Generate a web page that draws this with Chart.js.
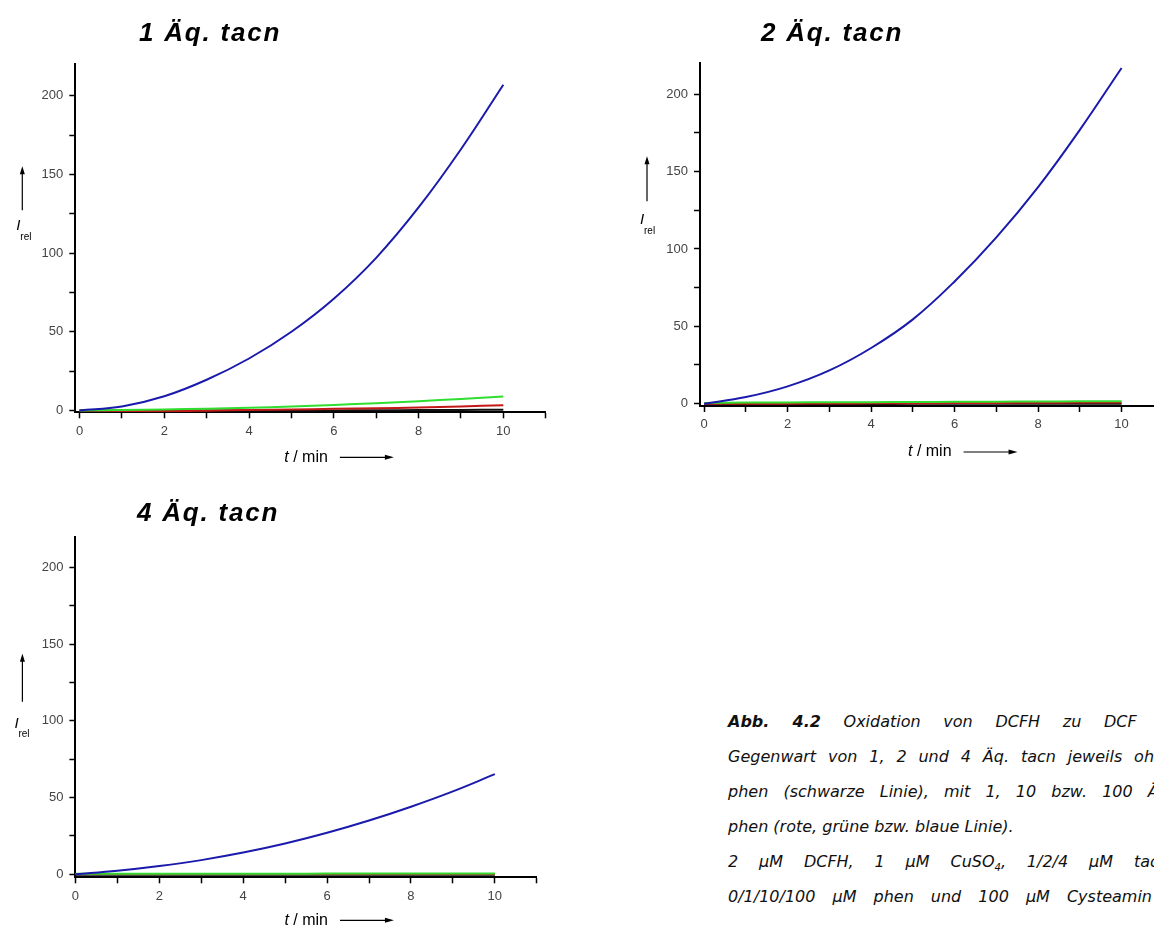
<!DOCTYPE html>
<html>
<head>
<meta charset="utf-8">
<script src="https://cdn.jsdelivr.net/npm/chart.js@4.4.1/dist/chart.umd.min.js"></script>
<style>
    html, body { margin: 0; padding: 0; background: #fff; }
    body { width: 1154px; height: 927px; overflow: hidden; position: relative; }
    canvas { position: absolute; }
    .title {
        position: absolute;
        font: italic bold 26px "Liberation Sans", Arial, sans-serif;
        letter-spacing: 1.8px;
        transform: translate(-50%, -50%);
        white-space: nowrap;
        color: #000;
    }
    .caption {
        position: absolute;
        left: 728px;
        top: 704px;
        font: italic 16px "DejaVu Sans", Verdana, sans-serif;
        color: #111;
    }
    .caption div {
        height: 35px;
        line-height: 35px;
        width: 446px;
        white-space: nowrap;
        text-align: justify;
        text-align-last: justify;
    }
    .caption sub { font-size: 10px; line-height: 0; }
</style>
</head>
<body>
<canvas id="chart1" width="560" height="470" style="left:0;top:0"></canvas>
<canvas id="chart2" width="580" height="470" style="left:600px;top:0"></canvas>
<canvas id="chart4" width="560" height="470" style="left:0;top:470px"></canvas>

<div class="title" id="title1" style="left:210px;top:32px"></div>
<div class="title" id="title2" style="left:832px;top:32px"></div>
<div class="title" id="title4" style="left:208px;top:512px"></div>

<div class="caption">
    <div><b>Abb. 4.2</b> Oxidation von DCFH zu DCF in</div>
    <div>Gegenwart von 1, 2 und 4 Äq. tacn jeweils ohne</div>
    <div>phen (schwarze Linie), mit 1, 10 bzw. 100 Äq.</div>
    <div style="text-align-last:left">phen (rote, grüne bzw. blaue Linie).</div>
    <div>2 μM DCFH, 1 μM CuSO<sub>4</sub>, 1/2/4 μM tacn,</div>
    <div style="width:424px">0/1/10/100 μM phen und 100 μM Cysteamin</div>
</div>

<script>
// time axis (min) and read-off values
const times = [0, 1, 2, 3, 4, 5, 6, 7, 8, 9, 10];

const panelTitles = ['1 Äq. tacn', '2 Äq. tacn', '4 Äq. tacn'];

// 1 eq tacn
const blue1  = [0, 2.5, 9, 19.5, 33, 50, 71, 97, 129, 166, 207];
const green1 = [0, 0.3, 0.6, 1.1, 1.7, 2.5, 3.5, 4.6, 5.9, 7.3, 8.9];
const red1   = [0, -0.3, -0.5, -0.2, 0.3, 0.6, 1.0, 1.3, 1.8, 2.5, 3.3];
const black1 = [0, 0, -0.1, -0.1, 0, 0, 0, 0.1, 0.2, 0.3, 0.5];

// 2 eq tacn
const blue2  = [0, 4.3, 11.2, 21.5, 36, 54.5, 79, 107.5, 140, 177, 217];
const green2 = [0.5, 0.7, 0.8, 0.9, 1.0, 1.1, 1.2, 1.3, 1.4, 1.5, 1.6];
const red2   = [0, 0, 0, 0.1, 0.2, 0.3, 0.4, 0.5, 0.6, 0.7, 0.8];
const black2 = [0, -0.3, -0.3, -0.2, -0.2, -0.1, 0, 0, 0, 0, 0];

// 4 eq tacn
const blue4  = [0, 2.2, 5.3, 9.2, 14.1, 20, 27, 35, 44, 54, 65.2];
const green4 = [0.3, 0.3, 0.3, 0.3, 0.3, 0.3, 0.4, 0.4, 0.4, 0.4, 0.4];
const red4   = [0.1, 0.1, 0.1, 0.1, 0.1, 0.2, 0.2, 0.2, 0.2, 0.2, 0.2];
const black4 = [-0.4, -0.4, -0.4, -0.4, -0.4, -0.4, -0.4, -0.4, -0.4, -0.4, -0.4];

const xTicks = [0, 1, 2, 3, 4, 5, 6, 7, 8, 9, 10, 11];
const xLabeled = [0, 2, 4, 6, 8, 10];
const yTicks = [0, 25, 50, 75, 100, 125, 150, 175, 200];
const yLabeled = [0, 50, 100, 150, 200];

const colors = { blue: '#1a1aac', green: '#30de30', red: '#c41818', black: '#111111' };

// draws "I rel" and "t / min" with their arrows
const axisDecor = {
    id: 'axisDecor',
    afterDraw(chart, args, opts) {
        const ctx = chart.ctx;
        const area = chart.chartArea;
        ctx.save();
        ctx.fillStyle = '#000';
        ctx.strokeStyle = '#000';
        ctx.textBaseline = 'middle';
        ctx.textAlign = 'left';

        // y label
        const ix = area.left + opts.iDx;
        const iy = area.top + opts.iDy;
        ctx.font = 'italic 15px "Liberation Sans", Arial, sans-serif';
        ctx.fillText('I', ix, iy);
        ctx.font = '10px "Liberation Sans", Arial, sans-serif';
        ctx.fillText('rel', ix + 4, iy + 11);

        const ax = area.left + opts.aDx;
        const ay1 = area.top + opts.aY1;
        const ay2 = area.top + opts.aY2;
        ctx.lineWidth = 1.2;
        ctx.beginPath();
        ctx.moveTo(ax, ay1);
        ctx.lineTo(ax, ay2 + 6);
        ctx.stroke();
        ctx.beginPath();
        ctx.moveTo(ax, ay2);
        ctx.lineTo(ax - 2.5, ay2 + 8);
        ctx.lineTo(ax + 2.5, ay2 + 8);
        ctx.closePath();
        ctx.fill();

        // x label
        let tx = area.left + opts.tDx;
        const ty = area.bottom + opts.tDy;
        ctx.font = 'italic 16px "Liberation Sans", Arial, sans-serif';
        ctx.fillText('t', tx, ty);
        tx += ctx.measureText('t').width;
        ctx.font = '16px "Liberation Sans", Arial, sans-serif';
        ctx.fillText(' / min', tx, ty);
        tx += ctx.measureText(' / min').width;

        const x1 = tx + 12;
        const x2 = tx + 66;
        ctx.beginPath();
        ctx.moveTo(x1, ty);
        ctx.lineTo(x2 - 6, ty);
        ctx.stroke();
        ctx.beginPath();
        ctx.moveTo(x2, ty);
        ctx.lineTo(x2 - 9, ty - 2.5);
        ctx.lineTo(x2 - 9, ty + 2.5);
        ctx.closePath();
        ctx.fill();
        ctx.restore();
    }
};

function series(values, color) {
    return {
        data: times.map((t, i) => ({ x: t, y: values[i] })),
        borderColor: color,
        borderWidth: 2,
        pointRadius: 0,
        fill: false,
        tension: 0.4
    };
}

function makeChart(id, datasets, box, decor) {
    const tickFont = { family: '"Liberation Sans", Arial, sans-serif', size: 13 };
    return new Chart(document.getElementById(id), {
        type: 'line',
        data: { datasets: datasets },
        plugins: [axisDecor],
        options: {
            responsive: false,
            animation: false,
            events: [],
            layout: { padding: { top: box.padTop, right: box.padRight, left: 0, bottom: 0 } },
            plugins: {
                legend: { display: false },
                tooltip: { enabled: false },
                axisDecor: decor
            },
            scales: {
                x: {
                    type: 'linear',
                    min: box.xMin,
                    max: 11,
                    afterBuildTicks: s => { s.ticks = xTicks.map(v => ({ value: v })); },
                    afterFit: s => { s.height = box.xHeight; },
                    grid: { drawOnChartArea: false, tickLength: 6, tickWidth: 1.5, tickColor: '#000' },
                    border: { display: true, color: '#000', width: 2 },
                    ticks: {
                        callback: v => xLabeled.includes(v) ? String(v) : '',
                        font: tickFont,
                        color: '#444',
                        padding: 5,
                        maxRotation: 0,
                        autoSkip: false
                    }
                },
                y: {
                    type: 'linear',
                    min: box.yMin,
                    max: 220,
                    afterBuildTicks: s => { s.ticks = yTicks.map(v => ({ value: v })); },
                    afterFit: s => { s.width = box.yWidth; },
                    grid: { drawOnChartArea: false, tickLength: 6, tickWidth: 1.5, tickColor: '#000' },
                    border: { display: true, color: '#000', width: 2 },
                    ticks: {
                        callback: v => yLabeled.includes(v) ? String(v) : '',
                        font: tickFont,
                        color: '#444',
                        padding: 6,
                        autoSkip: false
                    }
                }
            }
        }
    });
}

document.getElementById('title1').textContent = panelTitles[0];
document.getElementById('title2').textContent = panelTitles[1];
document.getElementById('title4').textContent = panelTitles[2];

makeChart('chart1',
    [series(blue1, colors.blue), series(green1, colors.green), series(red1, colors.red), series(black1, colors.black)],
    { padTop: 64.3, padRight: 14.3, yWidth: 75.3, xHeight: 57.7, xMin: -0.1, yMin: -1.2 },
    { iDx: -59, iDy: 162, aDx: -53, aY1: 146, aY2: 102, tDx: 209, tDy: 45 });

makeChart('chart2',
    [series(blue2, colors.blue), series(green2, colors.green), series(red2, colors.red), series(black2, colors.black)],
    { padTop: 63.3, padRight: 16.7, yWidth: 100, xHeight: 64, xMin: -0.1, yMin: -1.5 },
    { iDx: -60, iDy: 157, aDx: -53, aY1: 138, aY2: 93, tDx: 208, tDy: 46 });

makeChart('chart4',
    [series(blue4, colors.blue), series(green4, colors.green), series(red4, colors.red), series(black4, colors.black)],
    { padTop: 66.7, padRight: 23.2, yWidth: 75.4, xHeight: 62.7, xMin: 0, yMin: -2 },
    { iDx: -61, iDy: 187, aDx: -53, aY1: 165, aY2: 117, tDx: 209, tDy: 43 });
</script>
</body>
</html>
